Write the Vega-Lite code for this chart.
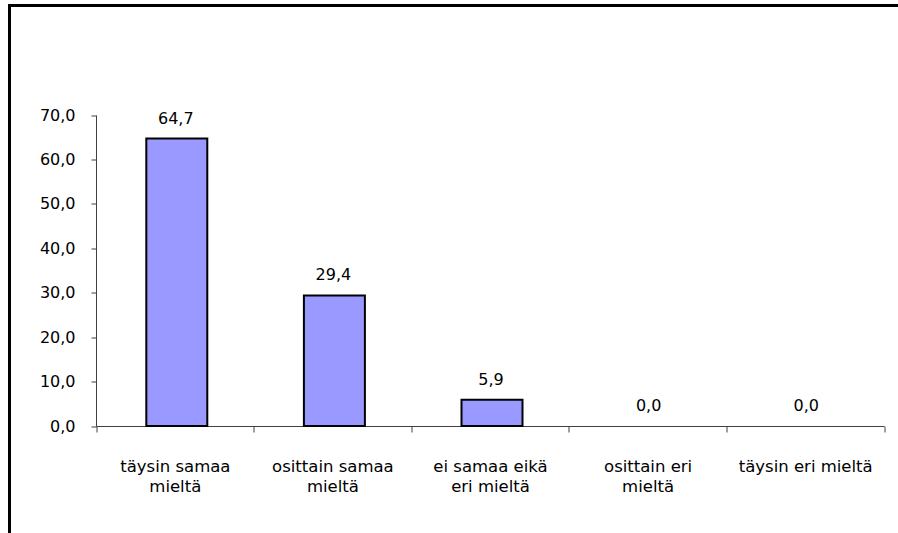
{
  "$schema": "https://vega.github.io/schema/vega-lite/v6.json",
  "autosize": "none",
  "width": 1000,
  "height": 600,
  "padding": {"left": 9.5, "top": 5.5, "right": -111.5, "bottom": -72.5},
  "background": "white",
  "config": {
    "view": {"stroke": "#000000", "strokeWidth": 3},
    "locale": {"number": {"decimal": ",", "thousands": " ", "grouping": [3], "currency": ["", " €"]}},
    "font": "DejaVu Sans"
  },
  "data": {"values": [
    {"vastaus": "täysin samaa mieltä", "osuus": 64.7},
    {"vastaus": "osittain samaa mieltä", "osuus": 29.4},
    {"vastaus": "ei samaa eikä eri mieltä", "osuus": 5.9},
    {"vastaus": "osittain eri mieltä", "osuus": 0.0},
    {"vastaus": "täysin eri mieltä", "osuus": 0.0}
  ]},
  "encoding": {
    "x": {
      "field": "vastaus", "type": "nominal", "sort": null,
      "scale": {"range": [86.5, 874.5], "paddingInner": 0, "paddingOuter": 0},
      "axis": {
        "title": null, "orient": "bottom", "offset": -179.5,
        "labelAngle": 0, "tickBand": "extent", "tickSize": 6,
        "domainColor": "#404040", "tickColor": "#404040", "domainWidth": 1, "tickWidth": 1,
        "labelFont": "DejaVu Sans", "labelFontSize": 16.5, "labelColor": "#000000",
        "labelBaseline": "alphabetic", "labelPadding": 39, "labelLineHeight": 20,
        "labelExpr": "({'täysin samaa mieltä': ['täysin samaa', 'mieltä'], 'osittain samaa mieltä': ['osittain samaa', 'mieltä'], 'ei samaa eikä eri mieltä': ['ei samaa eikä', 'eri mieltä'], 'osittain eri mieltä': ['osittain eri', 'mieltä']})[datum.label] || datum.label"
      }
    },
    "y": {
      "field": "osuus", "type": "quantitative",
      "scale": {"domain": [0, 70], "nice": false, "range": [420.5, 109.5]},
      "axis": {
        "title": null, "orient": "left", "offset": -86.5,
        "values": [0, 10, 20, 30, 40, 50, 60, 70], "format": ".1f",
        "grid": false, "tickSize": 5, "labelPadding": 16,
        "domainColor": "#404040", "tickColor": "#404040",
        "labelFont": "DejaVu Sans", "labelFontSize": 16, "labelColor": "#000000"
      }
    }
  },
  "layer": [
    {"mark": {"type": "bar", "fill": "#9999FF", "strokeWidth": 2, "xOffset": 2, "width": {"band": 0.387}},
     "encoding": {"stroke": {"condition": {"test": "datum.osuus == 0", "value": null}, "value": "#000000"}}},
    {"mark": {"type": "text", "baseline": "alphabetic", "dy": -15, "dx": 1, "font": "DejaVu Sans", "fontSize": 16, "color": "#000000"},
     "encoding": {"text": {"field": "osuus", "type": "quantitative", "format": ".1f"}}}
  ]
}
